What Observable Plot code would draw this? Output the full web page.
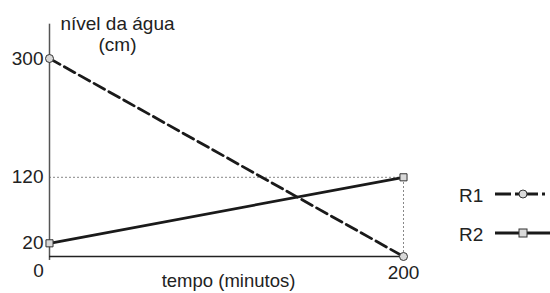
<!DOCTYPE html>
<html>
<head>
<meta charset="utf-8">
<script src="https://cdn.jsdelivr.net/npm/d3@7"></script>
<script src="https://cdn.jsdelivr.net/npm/@observablehq/plot@0.6"></script>
<style>
  html, body { margin: 0; padding: 0; background: #fff; }
  #wrap { position: relative; width: 550px; height: 293px; font-family: "Liberation Sans", Arial, sans-serif; }
  #legend { position: absolute; left: 459px; top: 184px; font-size: 19px; color: #222; }
  .row { display: flex; align-items: center; height: 20px; }
  .row span { width: 36px; position: relative; top: 2px; }
</style>
</head>
<body>
<div id="wrap"></div>
<script>
// Data
const times = [0, 200];
const r1 = [300, 0];
const r2 = [20, 120];
const yTickLabels = [300, 120, 20];
const xTickLabels = [0, 200];
const seriesNames = ["R1", "R2"];
const yTitle = ["nível da água", "(cm)"];
const xTitle = "tempo (minutos)";

const dataR1 = times.map((t, i) => ({t, v: r1[i]}));
const dataR2 = times.map((t, i) => ({t, v: r2[i]}));

const font = "Liberation Sans, Arial, sans-serif";
const fs = 19;
const lineColor = "#1a1a1a";
const markFill = "#d9d9d9";
const txt = "#222";

const chart = Plot.plot({
  width: 550,
  height: 293,
  marginLeft: 49,
  marginRight: 147,
  marginTop: 58,
  marginBottom: 37,
  style: {fontFamily: font, background: "#fff"},
  x: {domain: [0, 200], axis: null},
  y: {domain: [0, 300], axis: null},
  marks: [
    // guide lines
    Plot.ruleY([120], {x1: 0, x2: 200, stroke: "#888", strokeDasharray: "2,2", strokeWidth: 1}),
    Plot.ruleX([200], {y1: 0, y2: 120, stroke: "#888", strokeDasharray: "2,2", strokeWidth: 1}),
    // axes
    Plot.ruleX([0], {y1: -6, y2: 352, stroke: "#555", strokeWidth: 1.5}),
    Plot.ruleY([0], {x1: 0, x2: 200, stroke: "#222", strokeWidth: 1.5}),
    // series
    Plot.line(dataR1, {x: "t", y: "v", stroke: lineColor, strokeWidth: 2.8, strokeDasharray: "12,5"}),
    Plot.line(dataR2, {x: "t", y: "v", stroke: lineColor, strokeWidth: 2.8}),
    Plot.dot(dataR1, {x: "t", y: "v", r: 4, fill: markFill, stroke: "#333", strokeWidth: 1}),
    Plot.dot(dataR2, {x: "t", y: "v", symbol: "square", r: 4, fill: markFill, stroke: "#333", strokeWidth: 1}),
    // tick labels
    Plot.text(yTickLabels, {x: 0, y: d => d, text: d => String(d), textAnchor: "end", dx: -6, fill: txt, fontSize: fs}),
    Plot.text([xTickLabels[0]], {x: d => d, y: 0, text: d => String(d), dx: -11, dy: 14, fill: txt, fontSize: fs}),
    Plot.text([xTickLabels[1]], {x: d => d, y: 0, text: d => String(d), dy: 16, fill: txt, fontSize: fs}),
    // titles
    Plot.text([yTitle[0]], {x: 0, y: 300, dx: 68, dy: -35, fill: txt, fontSize: fs}),
    Plot.text([yTitle[1]], {x: 0, y: 300, dx: 68, dy: -14, fill: txt, fontSize: fs}),
    Plot.text([xTitle], {x: 100, y: 0, dx: 2, dy: 25, fill: txt, fontSize: 18.5})
  ]
});
document.getElementById("wrap").appendChild(chart);

// Legend (HTML overlay with small SVG swatches)
const legend = document.createElement("div");
legend.id = "legend";
const swatches = [
  {name: seriesNames[0], dash: "16,4,23,4,3", mark: "circle"},
  {name: seriesNames[1], dash: null, mark: "square"}
];
swatches.forEach((s, i) => {
  const row = document.createElement("div");
  row.className = "row";
  row.style.marginBottom = i === 0 ? "19px" : "0";
  const lab = document.createElement("span");
  lab.textContent = s.name;
  row.appendChild(lab);
  const svg = d3.create("svg").attr("width", 56).attr("height", 12);
  svg.append("line").attr("x1", 0).attr("x2", 56).attr("y1", 6).attr("y2", 6)
    .attr("stroke", lineColor).attr("stroke-width", 2.8)
    .attr("stroke-dasharray", s.dash);
  if (s.mark === "circle") {
    svg.append("circle").attr("cx", 28).attr("cy", 6).attr("r", 4)
      .attr("fill", markFill).attr("stroke", "#333");
  } else {
    svg.append("rect").attr("x", 24).attr("y", 2).attr("width", 8).attr("height", 8)
      .attr("fill", markFill).attr("stroke", "#333");
  }
  row.appendChild(svg.node());
  legend.appendChild(row);
});
document.getElementById("wrap").appendChild(legend);
</script>
</body>
</html>
